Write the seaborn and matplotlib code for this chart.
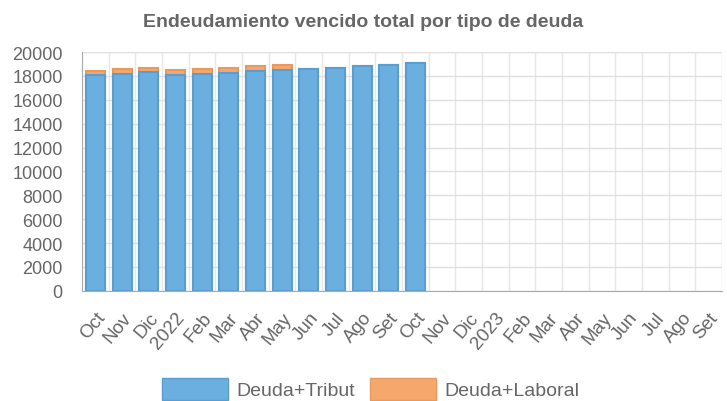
import numpy as np
import pandas as pd
import matplotlib
matplotlib.use("Agg")
from matplotlib import pyplot as plt
from matplotlib.patches import Patch
import seaborn as sns

# months shown on the x axis (Oct 2021 .. Sep 2023)
keys = ["2021-10", "2021-11", "2021-12", "2022-01", "2022-02", "2022-03",
        "2022-04", "2022-05", "2022-06", "2022-07", "2022-08", "2022-09",
        "2022-10", "2022-11", "2022-12", "2023-01", "2023-02", "2023-03",
        "2023-04", "2023-05", "2023-06", "2023-07", "2023-08", "2023-09"]
tick_labels = ["Oct", "Nov", "Dic", "2022", "Feb", "Mar", "Abr", "May", "Jun",
               "Jul", "Ago", "Set", "Oct", "Nov", "Dic", "2023", "Feb", "Mar",
               "Abr", "May", "Jun", "Jul", "Ago", "Set"]

# data only exists for the first 13 months
tribut = [18050, 18200, 18310, 18060, 18170, 18280, 18390, 18500,
          18590, 18700, 18820, 18930, 19070]
laboral = [400, 420, 390, 420, 450, 420, 430, 430,
           0, 0, 0, 0, 0]

df = pd.DataFrame({"mes": keys[:len(tribut)], "tribut": tribut, "laboral": laboral})
df["total"] = df["tribut"] + df["laboral"]

sns.set_style("white")
plt.rcParams["font.family"] = ["Liberation Sans Narrow", "Liberation Sans", "DejaVu Sans"]

blue, blue_e = "#6aafe0", "#5a9dd0"
orange, orange_e = "#f6a86c", "#e89a5e"
grey = "#666666"

fig, ax = plt.subplots(figsize=(7.27, 4.02), dpi=100)
fig.subplots_adjust(left=0.113, right=0.993, top=0.868, bottom=0.274)

sns.barplot(data=df, x="mes", y="total", order=keys, color=orange,
            edgecolor=orange_e, linewidth=1.5, width=0.71, saturation=1, ax=ax)
sns.barplot(data=df, x="mes", y="tribut", order=keys, color=blue,
            edgecolor=blue_e, linewidth=1.5, width=0.71, saturation=1, ax=ax)

ax.set_xlim(-0.5, len(keys) - 0.5)
ax.set_ylim(0, 20000)
ax.set_yticks(np.arange(0, 20001, 2000))
ax.set_xticks(range(len(keys)))
ax.set_xticklabels(tick_labels, rotation=50, ha="right", rotation_mode="anchor",
                   fontsize=13.5, color=grey)
ax.tick_params(axis="x", length=0, pad=13)
ax.tick_params(axis="y", length=12, color="#dddddd", labelsize=13, labelcolor=grey, pad=2)
ax.set_xticks(np.arange(-0.5, len(keys), 1), minor=True)
ax.tick_params(axis="x", which="minor", length=10, color="#dddddd")
ax.grid(True, axis="y", color="#e0e0e0", linewidth=1)
ax.grid(True, axis="x", which="minor", color="#e6e6e6", linewidth=1)
ax.grid(False, axis="x", which="major")
ax.set_axisbelow(True)
ax.set_xlabel("")
ax.set_ylabel("")
for s in ["top", "right"]:
    ax.spines[s].set_visible(False)
ax.spines["left"].set_color("#aaaaaa")
ax.spines["bottom"].set_color("#aaaaaa")

fig.suptitle("Endeudamiento vencido total por tipo de deuda", x=0.5, y=0.965,
             fontsize=14, fontweight="bold", color=grey)

handles = [Patch(facecolor=blue, edgecolor=blue_e, label="Deuda+Tribut"),
           Patch(facecolor=orange, edgecolor=orange_e, label="Deuda+Laboral")]
fig.legend(handles=handles, loc="lower center", ncol=2, frameon=False,
           bbox_to_anchor=(0.51, -0.04), fontsize=14, handlelength=3.4,
           handleheight=1.3, columnspacing=0.8, handletextpad=0.4,
           labelcolor=grey)

fig.savefig("out.png", dpi=100)
